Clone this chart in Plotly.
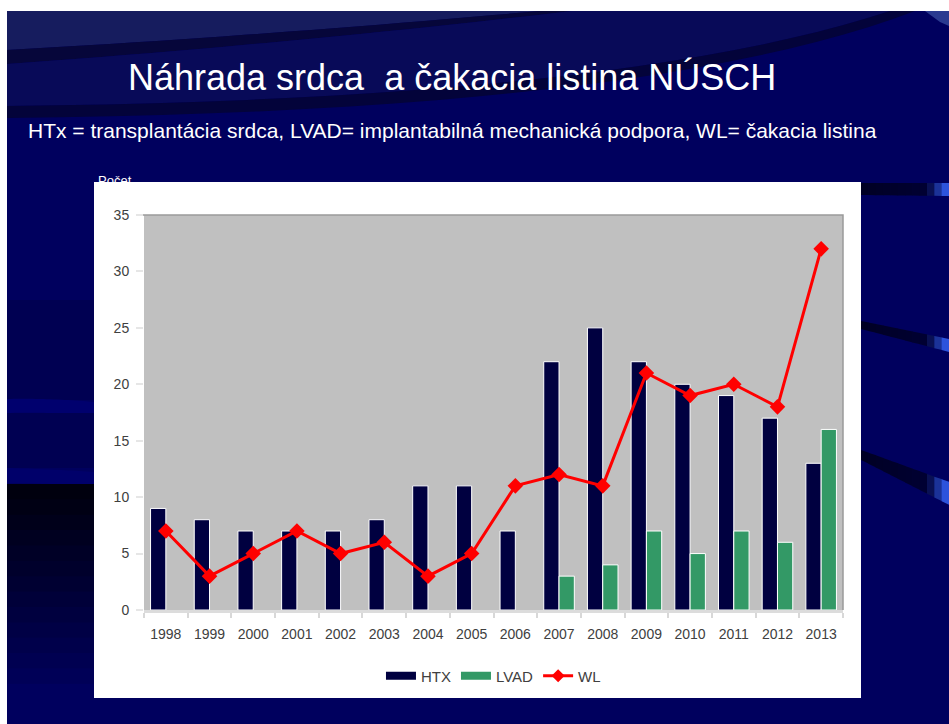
import plotly.graph_objects as go

years = [str(y) for y in range(1998, 2014)]
htx = [9, 8, 7, 7, 7, 8, 11, 11, 7, 22, 25, 22, 20, 19, 17, 13]
lvad = [None, None, None, None, None, None, None, None, None, 3, 4, 7, 5, 7, 6, 16]
wl = [7, 3, 5, 7, 5, 6, 3, 5, 11, 12, 11, 21, 19, 20, 18, 32]
y_ticks = [0, 5, 10, 15, 20, 25, 30, 35]

HTX_COLOR = "#000040"
LVAD_COLOR = "#339966"
WL_COLOR = "#ff0000"

W, H = 949, 724


def px(x, y):
    return x / W, 1 - y / H


def path(points, close=True):
    s = ""
    for i, (x, y) in enumerate(points):
        X, Y = px(x, y)
        s += ("M" if i == 0 else "L") + f"{X:.5f},{Y:.5f} "
    if close:
        s += "Z"
    return s


def rect(x0, y0, x1, y1, color):
    X0, Y0 = px(x0, y0)
    X1, Y1 = px(x1, y1)
    return dict(type="rect", xref="paper", yref="paper", x0=X0, y0=Y0, x1=X1, y1=Y1,
                fillcolor=color, layer="below", line=dict(width=0))


def band(pts_top, pts_bot, color):
    pts = pts_top + pts_bot[::-1]
    return dict(type="path", xref="paper", yref="paper", path=path(pts),
                fillcolor=color, line=dict(width=0), layer="below")


def curve(p0, c, p1, n=24):
    out = []
    for i in range(n + 1):
        t = i / n
        x = (1 - t) ** 2 * p0[0] + 2 * (1 - t) * t * c[0] + t ** 2 * p1[0]
        y = (1 - t) ** 2 * p0[1] + 2 * (1 - t) * t * c[1] + t ** 2 * p1[1]
        out.append((x, y))
    return out


shapes = []
# slide background
shapes.append(rect(7, 11, W, H, "#00005e"))
# top-left lighter region above the first arc
arc1_top = curve((7, 50), (260, 36), (540, 11))
arc1_bot = curve((7, 64), (290, 44), (572, 11))
shapes.append(band([(7, 11)], arc1_top + [(540, 11)], "#161c5e"))
shapes.append(band(arc1_top, arc1_bot, "#06063a"))
# region between the arcs
arc2_top = curve((7, 106), (620, 100), (890, 11))
arc2_bot = curve((7, 118), (650, 112), (915, 11))
shapes.append(dict(type="path", xref="paper", yref="paper",
                   path=path(arc1_bot + [(890, 11)] + arc2_top[::-1]),
                   fillcolor="#080a58", line=dict(width=0), layer="below"))
shapes.append(band(arc2_top, arc2_bot, "#03033a"))
# top right corner light
shapes.append(band([(925, 11), (949, 11)], [(940, 22), (949, 26)], "#2a3a90"))

# left side bands
shapes.append(rect(7, 300, 94, 400, "#000052"))
shapes.append(band(curve((7, 399), (50, 398), (94, 402)), curve((7, 413), (50, 412), (94, 415)), "#00006e"))
shapes.append(rect(7, 413, 94, 468, "#000052"))
shapes.append(band(curve((7, 468), (50, 469), (94, 472)), curve((7, 483), (50, 483), (94, 487)), "#00006a"))
# black region fading to navy
steps = 14
for i in range(steps):
    y0 = 484 + i * (215 / steps)
    y1 = 484 + (i + 1) * (215 / steps) + 1
    t = i / (steps - 1)
    b = int(14 + t * (94 - 14))
    shapes.append(rect(7, y0, 94, y1, f"rgb(0,0,{b})"))


def streak(top, bot, n=12):
    out = []
    for i in range(n):
        t0 = i / n
        t1 = (i + 1) / n
        x0 = top[0][0] + (top[1][0] - top[0][0]) * t0
        x1 = top[0][0] + (top[1][0] - top[0][0]) * t1 + 0.5
        ya0 = top[0][1] + (top[1][1] - top[0][1]) * t0
        ya1 = top[0][1] + (top[1][1] - top[0][1]) * t1
        yb0 = bot[0][1] + (bot[1][1] - bot[0][1]) * t0
        yb1 = bot[0][1] + (bot[1][1] - bot[0][1]) * t1
        tm = (t0 + t1) / 2
        if tm < 0.75:
            c = (0, 0, 36 + int(tm * 20))
        else:
            f = (tm - 0.75) / 0.25
            c = (int(f * 55), int(f * 100), int(50 + f * 205))
        out.append(dict(type="path", xref="paper", yref="paper",
                        path=path([(x0, ya0), (x1, ya1), (x1, yb1), (x0, yb0)]),
                        fillcolor=f"rgb{c}", line=dict(width=0), layer="below"))
    return out


shapes += streak([(861, 183), (949, 183)], [(861, 195), (949, 196)])
shapes += streak([(861, 321), (949, 339)], [(861, 329), (949, 352)])
shapes += streak([(861, 450), (949, 482)], [(861, 460), (949, 505)])

# white chart box
shapes.append(rect(94, 182, 861, 698, "#ffffff"))
# plot area background
shapes.append(rect(144, 215, 843, 610, "#c0c0c0"))
# top and right border of plot area
shapes.append(dict(type="path", xref="paper", yref="paper",
                   path=path([(143, 215), (843, 215), (843, 610)], close=False),
                   line=dict(color="#9a9a9a", width=1.5), layer="below"))

fig = go.Figure()
fig.add_trace(go.Bar(name="HTX", x=years, y=htx, showlegend=False,
                     marker=dict(color=HTX_COLOR, line=dict(color="#ffffff", width=1))))
fig.add_trace(go.Bar(name="LVAD", x=years, y=lvad, showlegend=False,
                     marker=dict(color=LVAD_COLOR, line=dict(color="#ffffff", width=1))))
fig.add_trace(go.Scatter(name="WL", x=years, y=wl, mode="lines+markers", showlegend=False,
                         line=dict(color=WL_COLOR, width=3),
                         marker=dict(symbol="diamond", size=12, color=WL_COLOR)))
# legend entries (wide rectangular swatches as in the original)
fig.add_trace(go.Scatter(name="HTX", x=[None], y=[None], mode="lines",
                         line=dict(color=HTX_COLOR, width=8)))
fig.add_trace(go.Scatter(name="LVAD", x=[None], y=[None], mode="lines",
                         line=dict(color=LVAD_COLOR, width=8)))
fig.add_trace(go.Scatter(name="WL", x=[None], y=[None], mode="lines+markers",
                         line=dict(color=WL_COLOR, width=3),
                         marker=dict(symbol="diamond", size=10, color=WL_COLOR)))

x0d, x1d = 144 / W, 843 / W
y0d, y1d = 1 - 610 / H, 1 - 215 / H

fig.update_layout(
    width=W, height=H,
    margin=dict(l=0, r=0, t=0, b=0, pad=0, autoexpand=False),
    paper_bgcolor="#ffffff",
    plot_bgcolor="rgba(0,0,0,0)",
    barmode="group", bargap=0.3, bargroupgap=0,
    shapes=shapes,
    font=dict(family="Liberation Sans", size=14, color="#404040"),
    xaxis=dict(domain=[x0d, x1d], type="category", range=[-0.5, len(years) - 0.5],
               tickson="boundaries", ticks="outside", automargin=False,
               ticklen=5, tickcolor="#d8d8d8", tickwidth=1.5, showline=True, linecolor="#dcdcdc",
               linewidth=2.5, showgrid=False, zeroline=False, ticklabelstandoff=9,
               tickfont=dict(family="Liberation Sans", size=14, color="#404040"), fixedrange=True),
    yaxis=dict(domain=[y0d, y1d], range=[0, 35], tickvals=y_ticks, ticks="outside", ticklen=7,
               tickcolor="#e6e6e6", tickwidth=1.5, showline=False, showgrid=False, zeroline=False,
               ticklabelstandoff=4, automargin=False,
               tickfont=dict(family="Liberation Sans", size=14, color="#404040"), fixedrange=True),
    legend=dict(orientation="h", x=0.52, xanchor="center", y=1 - 676 / H, yanchor="middle",
                font=dict(family="Liberation Sans", size=15, color="#404040"),
                bgcolor="rgba(0,0,0,0)", itemwidth=30, tracegroupgap=0, entrywidth=0),
    annotations=[
        dict(text="Počet", x=96 / W, y=1 - 180.5 / H, xref="paper", yref="paper", showarrow=False,
             xanchor="left", yanchor="middle",
             font=dict(family="Liberation Sans", size=13, color="#ffffff")),
        dict(text="Náhrada srdca\u00a0 a čakacia listina NÚSCH", x=452 / W, y=1 - 77 / H,
             xref="paper", yref="paper", showarrow=False, xanchor="center", yanchor="middle",
             font=dict(family="Liberation Sans", size=36, color="#ffffff")),
        dict(text="HTx = transplantácia srdca, LVAD= implantabilná mechanická podpora, WL= čakacia listina",
             x=26 / W, y=1 - 130 / H, xref="paper", yref="paper", showarrow=False,
             xanchor="left", yanchor="middle",
             font=dict(family="Liberation Sans", size=21, color="#ffffff")),
    ],
)

fig.write_html(
    "out.html",
    config={"responsive": False, "displayModeBar": False},
    post_script=(
        "document.documentElement.style.margin='0';"
        "document.documentElement.style.overflow='hidden';"
        "document.body.style.margin='0';document.body.style.overflow='hidden';"
    ),
)
